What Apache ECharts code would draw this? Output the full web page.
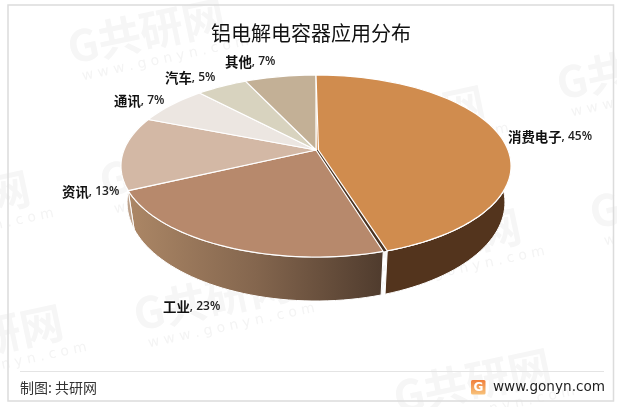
<!DOCTYPE html>
<html><head><meta charset="utf-8">
<style>html,body{margin:0;padding:0;background:#fff}#c{width:617px;height:407px}</style>
<script src="https://cdn.jsdelivr.net/npm/echarts@6/dist/echarts.min.js"></script>
</head><body><div id="c"></div>
<script>
const titleText = '铝电解电容器应用分布';
const sourceText = '制图: 共研网';
const siteText = 'www.gonyn.com';
const categories = ['消费电子', '工业', '资讯', '通讯', '汽车', '其他'];
const values = [45, 23, 13, 7, 5, 7];
const topColors = ['#D08C4E', '#B7896C', '#D3B8A5', '#ECE6E1', '#D8D3BF', '#C3B096'];

const total = values.reduce((a, b) => a + b, 0);
const startShare = values.map((_, i) => values.slice(0, i).reduce((a, b) => a + b, 0) / total);
const chart = echarts.init(document.getElementById('c'), null, {renderer: 'canvas'});

// perspective projection of the pie disc: value share -> screen point
const K = 0.176, CX = 316;
const topPlane = {y: 150, a: 192, b: 88.2};
const basePlane = {y: 185, a: 186, b: 95.6};
function rim(plane, share) {
  const t = share * 2 * Math.PI, u = Math.sin(t), v = -Math.cos(t), w = 1 - K * v;
  return [CX + plane.a * u / w, plane.y + plane.b * v / w];
}
function arc(plane, s0, s1) {
  const n = Math.max(4, Math.ceil((s1 - s0) * 180)), out = [];
  for (let i = 0; i <= n; i++) out.push(rim(plane, s0 + (s1 - s0) * i / n));
  return out;
}
const seam = 0.003; // visible sliver between the first two slices
const apexShift = 2.5;
function range(i) {
  let s0 = startShare[i], s1 = s0 + values[i] / total;
  if (i === 1) s0 += seam;
  return [s0, s1];
}
const wallFills = [
  '#53341D',
  new echarts.graphic.LinearGradient(0, 0, 1, 0, [
    {offset: 0, color: '#AC8766'}, {offset: 0.5, color: '#84664E'}, {offset: 1, color: '#4F3B2D'}]),
  '#BDA28C', '#C9BDB2', '#B9B39E', '#A8977F'
];

const sliceData = values.map((v, i) => ({name: categories[i], value: v}));

const labelPlace = [[508, 137], [163, 307], [62, 192], [114, 101], [165, 78], [225, 62]];
const labels = categories.map((c, i) => ({
  type: 'text', x: labelPlace[i][0], y: labelPlace[i][1], z: 50,
  style: {
    text: `{a|${c}}{b|, ${values[i]}%}`, verticalAlign: 'middle', align: 'left',
    rich: {
      a: {fontFamily: '"Noto Sans CJK SC"', fontSize: 13.4, fontWeight: 700, fill: '#111'},
      b: {fontFamily: '"Open Sans"', fontSize: 12, fontWeight: 600, fill: '#222'}
    }
  }
}));

// pale repeated watermark: left edge and mid height of each tile
const markSpots = [[68, 48], [557, 84], [-127, 220], [100, 181], [364, 258], [590, 213], [134, 315], [-94, 354], [394, 398], [328, 135]];
const marks = markSpots.map(p => ({
  type: 'group', x: p[0], y: p[1], rotation: 0.21, z: 0, children: [
    {type: 'text', x: 0, y: 0, style: {text: 'G共研网', fontFamily: '"Noto Sans CJK SC"', fontWeight: 700, fontSize: 43, fill: '#F6F6F6', verticalAlign: 'middle'}},
    {type: 'text', x: 8, y: 31, style: {text: 'w w w . g o n y n . c o m', fontFamily: '"DejaVu Sans"', fontSize: 14, fill: '#F4F4F4', verticalAlign: 'middle'}}
  ]
}));

chart.setOption({
  animation: false,
  backgroundColor: '#fff',
  title: {
    text: titleText, left: 206, top: 18,
    textStyle: {fontFamily: '"Noto Sans CJK SC"', fontSize: 20, fontWeight: 400, color: '#111'}
  },
  graphic: [
    ...marks,
    {type: 'rect', z: 1, shape: {x: 8, y: 5, width: 605.5, height: 396}, style: {fill: 'none', stroke: '#DCDCDC', lineWidth: 1.5}},
    {type: 'line', z: 1, shape: {x1: 20, y1: 371.5, x2: 604, y2: 371.5}, style: {stroke: '#E4E4E4', lineWidth: 1}},
    {type: 'text', z: 50, x: 20, y: 388, style: {text: sourceText, fontFamily: '"Noto Sans CJK SC"', fontSize: 14, fill: '#333', verticalAlign: 'middle'}},
    {type: 'rect', z: 50, shape: {x: 471, y: 380, width: 14.5, height: 14.5, r: 1.5}, style: {
      fill: new echarts.graphic.LinearGradient(0, 0, 0, 1, [{offset: 0, color: '#F07F3C'}, {offset: 1, color: '#F8C27A'}])}},
    {type: 'text', z: 51, x: 478.5, y: 387.5, style: {text: 'G', fontFamily: '"DejaVu Sans"', fontWeight: 700, fontSize: 12, fill: '#fff', align: 'center', verticalAlign: 'middle'}},
    {type: 'text', z: 50, x: 493, y: 387, style: {text: siteText, fontFamily: '"DejaVu Sans"', fontSize: 13.6, fill: '#222', verticalAlign: 'middle'}},
    ...labels
  ],
  series: [
    {
      type: 'custom', coordinateSystem: 'none', z: 5, data: sliceData, silent: true,
      renderItem(params) {
        const i = params.dataIndex, [s0, s1] = range(i);
        const pts = arc(topPlane, s0, s1).concat(arc(basePlane, s0, s1).reverse());
        return {type: 'polygon', shape: {points: pts}, style: {fill: wallFills[i], stroke: '#fff', lineWidth: 1}};
      }
    },
    {
      type: 'custom', coordinateSystem: 'none', z: 6, data: sliceData, silent: true,
      renderItem(params) {
        const i = params.dataIndex, [s0, s1] = range(i);
        const c = [CX, topPlane.y], children = [];
        if (i === 1) children.push({type: 'polygon', shape: {points: [c, [CX + apexShift, topPlane.y], rim(topPlane, s0 - seam), rim(topPlane, s0)]}, style: {fill: '#4A3322'}});
        children.push({type: 'polygon', shape: {points: [c].concat(arc(topPlane, s0, s1))}, style: {fill: topColors[i], stroke: '#fff', lineWidth: 1.2, lineJoin: 'round'}});
        return {type: 'group', children};
      }
    },
    {
      type: 'custom', coordinateSystem: 'none', z: 7, data: [sliceData[0]], silent: true,
      renderItem() {
        const [s0, s1] = range(0);
        return {type: 'polygon', shape: {points: [[CX + apexShift, topPlane.y]].concat(arc(topPlane, s0, s1))}, style: {fill: topColors[0], stroke: '#fff', lineWidth: 1.2}};
      }
    }
  ]
});
</script></body></html>
